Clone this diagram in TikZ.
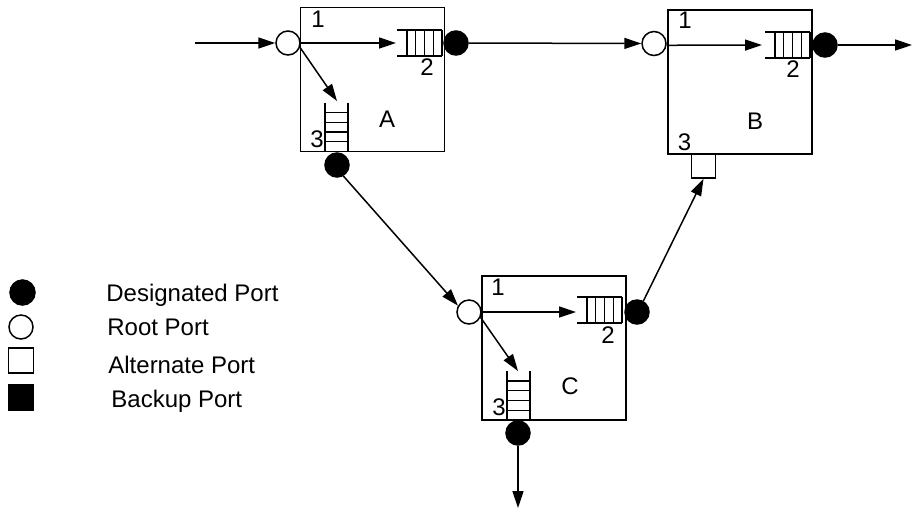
\documentclass[tikz,border=0pt]{standalone}
\usepackage{fontspec}
\setmainfont{Liberation Sans}
\usetikzlibrary{arrows.meta}
\tikzset{
 conn/.style={line width=0.75pt,-{Triangle[length=8.5pt,width=5.5pt]}},
 portbase/.style={circle,draw,line width=0.75pt,inner sep=0pt,minimum size=12pt},
 rootport/.style={portbase,fill=white},
 desport/.style={portbase,fill=black},
 altport/.style={rectangle,draw,line width=0.75pt,inner sep=0pt,minimum size=12pt,fill=white},
 backport/.style={altport,fill=black},
 swbox/.style={rectangle,draw,line width=0.85pt,inner sep=0pt,minimum size=72pt},
 qline/.style={line width=0.6pt},
 lbl/.style={inner sep=0pt,font=\fontsize{12}{14}\selectfont},
 legtext/.style={inner sep=0pt,anchor=base west,font=\fontsize{12}{14}\selectfont},
}
\newcommand\hqueue[2]{%
 \draw[qline] (#1-45,#2-13) -- (#1,#2-13) (#1-45,#2+13) -- (#1,#2+13);
 \foreach \k in {0,...,4} {\draw[qline] (#1-\k*8.75,#2-13) -- (#1-\k*8.75,#2+13);}}
\newcommand\vqueue[2]{%
 \draw[qline] (#1-11.5,#2-49) -- (#1-11.5,#2) (#1+11.5,#2-49) -- (#1+11.5,#2);
 \foreach \k in {1,...,4} {\draw[qline] (#1-11.5,#2-\k*9.75) -- (#1+11.5,#2-\k*9.75);}}
\begin{document}
\begin{tikzpicture}[x=0.5pt,y=-0.5pt]
\useasboundingbox (0,0) rectangle (913,510);
% switch boxes
\node[swbox] (boxA) at (372.5,79.5) {};
\node[swbox] (boxB) at (740,82) {};
\node[swbox] (boxC) at (554,348) {};
% queues
\hqueue{442}{43}
\vqueue{336.5}{151.5}
\hqueue{810}{45}
\hqueue{622}{310}
\vqueue{518.5}{420}
% labels
\node[lbl] (a1) at (318,19.5) {1};
\node[lbl] (a2l) at (427,67) {2};
\node[lbl] (aname) at (387,119) {A};
\node[lbl] (a3l) at (317,139) {3};
\node[lbl] (b1) at (685,20.5) {1};
\node[lbl] (b2l) at (793,69) {2};
\node[lbl] (bname) at (755,121) {B};
\node[lbl] (b3l) at (684.5,142) {3};
\node[lbl] (c1) at (498,287.5) {1};
\node[lbl] (c2l) at (608,335) {2};
\node[lbl] (cname) at (570,386.5) {C};
\node[lbl] (c3l) at (499,407.5) {3};
% ports
\node[rootport] (aroot) at (288,43) {};
\node[desport] (a2) at (456,43) {};
\node[desport] (a3) at (337,165) {};
\node[rootport] (broot) at (654,43.5) {};
\node[desport] (b2) at (825,45) {};
\node[altport] (bsq) at (703.5,166) {};
\node[rootport] (croot) at (469,312) {};
\node[desport] (c2) at (637,312) {};
\node[desport] (c3) at (518,433) {};
% free ends / queue inputs
\coordinate (ain) at (195,43);
\coordinate (aq2in) at (396,43);
\coordinate (aq3in) at (337,101);
\coordinate (bq2in) at (762,45);
\coordinate (bout) at (912,45);
\coordinate (cq2in) at (576,312);
\coordinate (cq3in) at (518,371);
\coordinate (cout) at (518,508);
% connectors
\draw[conn] (ain) -- (aroot);
\draw[conn] (aroot) -- (aq2in);
\draw[conn] (aroot.-20) -- (aq3in);
\draw[conn] (a2) -- (broot);
\draw[conn] (broot.-8) -- (bq2in);
\draw[conn] (b2) -- (bout);
\draw[conn] (a3.-60) -- (croot.150);
\draw[conn] (croot) -- (cq2in);
\draw[conn] (croot.-25) -- (cq3in);
\draw[conn] (c2.60) -- (bsq.south);
\draw[conn] (c3) -- (cout);
% legend
\node[desport,minimum size=12.5pt] (l1) at (22.5,292.5) {};
\node[legtext] (t1) at (106,301) {Designated Port};
\node[rootport] (l2) at (21,327) {};
\node[legtext] (t2) at (107,335) {Root Port};
\node[altport,minimum size=12.5pt] (l3) at (21,360.5) {};
\node[legtext] (t3) at (108,373) {Alternate Port};
\node[backport,minimum size=12.5pt] (l4) at (21,397.5) {};
\node[legtext] (t4) at (111,407) {Backup Port};
\end{tikzpicture}
\end{document}
